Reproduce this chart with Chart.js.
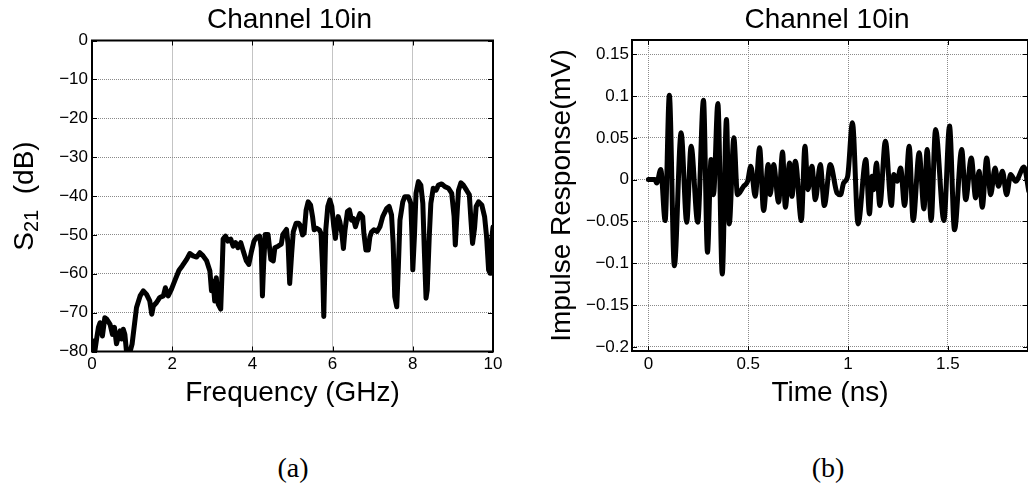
<!DOCTYPE html>
<html>
<head>
<meta charset="utf-8">
<title>Channel 10in</title>
<script src="https://cdn.jsdelivr.net/npm/chart.js@4"></script>
<style>
  html, body { margin: 0; padding: 0; background: #fff; }
  #page { position: relative; width: 1028px; height: 487px; overflow: hidden; }
  canvas { position: absolute; top: 0; }
  #s21 { left: 0; }
  #impulse { left: 505px; }
  .caption {
    position: absolute;
    font: 28px "Liberation Serif", "Times New Roman", serif;
    line-height: 1;
    transform: translate(-50%, -50%);
  }
</style>
</head>
<body>
<div id="page">
  <canvas id="s21" width="520" height="420"></canvas>
  <canvas id="impulse" width="523" height="420"></canvas>
  <div class="caption" style="left:293px; top:468px">(a)</div>
  <div class="caption" style="left:828px; top:468px">(b)</div>
</div>
<script>
// panel (a): S21 magnitude
const freqGHz = [
  0, 0.03, 0.07, 0.12, 0.16, 0.2, 0.26, 0.32, 0.37, 0.45,
  0.51, 0.56, 0.61, 0.7, 0.74, 0.78, 0.82, 0.86, 0.95, 1.0,
  1.05, 1.11, 1.2, 1.28, 1.36, 1.44, 1.49, 1.53, 1.61, 1.69,
  1.78, 1.83, 1.9, 1.98, 2.08, 2.17, 2.25, 2.36, 2.44, 2.52,
  2.61, 2.69, 2.77, 2.86, 2.94, 2.98, 3.02, 3.06, 3.1, 3.15,
  3.21, 3.25, 3.27, 3.33, 3.39, 3.46, 3.52, 3.58, 3.64, 3.71,
  3.77, 3.85, 3.91, 3.98, 4.04, 4.1, 4.18, 4.22, 4.25, 4.28,
  4.32, 4.39, 4.46, 4.52, 4.56, 4.64, 4.72, 4.76, 4.85, 4.89,
  4.93, 4.98, 5.02, 5.09, 5.15, 5.19, 5.25, 5.29, 5.34, 5.39,
  5.45, 5.5, 5.54, 5.6, 5.67, 5.71, 5.75, 5.78, 5.8, 5.83,
  5.88, 5.93, 5.98, 6.03, 6.07, 6.1, 6.14, 6.18, 6.23, 6.27,
  6.31, 6.37, 6.42, 6.47, 6.52, 6.57, 6.62, 6.68, 6.75, 6.78,
  6.83, 6.89, 6.93, 6.97, 7.03, 7.11, 7.18, 7.25, 7.35, 7.41,
  7.47, 7.51, 7.55, 7.6, 7.64, 7.68, 7.75, 7.8, 7.89, 7.95,
  7.98, 8.0, 8.04, 8.08, 8.14, 8.2, 8.25, 8.29, 8.33, 8.36,
  8.41, 8.45, 8.51, 8.58, 8.64, 8.72, 8.8, 8.89, 8.97, 9.03,
  9.06, 9.09, 9.14, 9.2, 9.26, 9.34, 9.41, 9.45, 9.49, 9.54,
  9.58, 9.64, 9.72, 9.79, 9.84, 9.89, 9.93, 9.95, 10.0
];
const s21dB = [
  -79, -77.3, -80, -76.4, -73.8, -72.6, -76, -71.3, -71.7, -73,
  -75.6, -73.8, -78, -74.7, -76.8, -74.3, -75.6, -80, -80, -78.1,
  -73.8, -68.7, -65.7, -64.4, -65.3, -67, -70.4, -68.3, -67.4, -66.1,
  -65.7, -63.6, -65.7, -64, -61.4, -59.1, -58, -56.3, -54.8, -55.4,
  -55.7, -54.6, -55.4, -56.7, -59.3, -64.4, -61.9, -67, -61, -67.9,
  -69.1, -57.6, -51.1, -50.3, -51.6, -51.1, -52.9, -52, -53.3, -52,
  -54.1, -56.7, -57.6, -54.1, -51.6, -50.7, -50.3, -53.3, -65.7, -57.6,
  -49.9, -49.9, -56.3, -56.7, -53.3, -52.9, -52.4, -49.9, -48.6, -52.4,
  -62.5, -54.7, -49.2, -47, -47, -47.5, -50, -49.6, -43.6, -41.5,
  -42.3, -45.3, -48.7, -48.3, -48.7, -49.6, -58.2, -71, -61.6, -48.7,
  -42.7, -41, -42.7, -47.9, -50.9, -47.9, -45.3, -46.6, -49.6, -53.5,
  -48.7, -44, -43.6, -46.2, -45.8, -47.9, -46.2, -44.5, -45.3, -49.6,
  -53.9, -53.9, -50.5, -49.3, -48.7, -49.1, -47.9, -45.3, -43.2, -42.7,
  -44.9, -52.2, -65.9, -68.5, -58.2, -46.2, -41.5, -40.2, -40.2, -41.9,
  -50.5, -59, -50.5, -39.3, -36.3, -37.2, -41.9, -54.7, -66.3, -64.2,
  -50.5, -41.9, -38, -38.5, -37.2, -36.9, -37.6, -38, -39.3, -45.3,
  -52.6, -47, -38.5, -36.6, -37.2, -38.5, -39.7, -46.2, -52.2, -48.3,
  -42.7, -41.5, -42.3, -45.3, -50.5, -59, -59.9, -53, -48
];

// panel (b): impulse response, peaks and troughs
const timeNs = [
  0, 0.033, 0.042, 0.062, 0.084, 0.105, 0.13, 0.164, 0.192, 0.214,
  0.247, 0.276, 0.296, 0.314, 0.326, 0.348, 0.37, 0.391, 0.405, 0.428,
  0.446, 0.477, 0.497, 0.513, 0.535, 0.557, 0.577, 0.6, 0.61, 0.627,
  0.652, 0.672, 0.686, 0.707, 0.719, 0.736, 0.766, 0.784, 0.799, 0.819,
  0.836, 0.861, 0.881, 0.911, 0.945, 0.962, 0.978, 0.998, 1.022, 1.05,
  1.089, 1.107, 1.12, 1.129, 1.142, 1.159, 1.187, 1.217, 1.229, 1.246,
  1.263, 1.283, 1.306, 1.326, 1.356, 1.38, 1.396, 1.416, 1.438, 1.48,
  1.508, 1.533, 1.569, 1.589, 1.617, 1.639, 1.656, 1.672, 1.694, 1.714,
  1.736, 1.753, 1.773, 1.794, 1.814, 1.839, 1.881, 1.905
];
const impulseMV = [
  0, 0, -0.004, 0.012, -0.049, 0.101, -0.103, 0.056, -0.051, 0.04,
  -0.051, 0.095, -0.087, 0.024, -0.018, 0.091, -0.113, 0.072, -0.053, 0.05,
  -0.018, -0.008, -0.002, 0.016, -0.02, 0.038, -0.037, 0.018, -0.018, 0.018,
  -0.027, 0.033, -0.033, 0.02, -0.02, 0.022, -0.049, 0.04, -0.012, 0.016,
  -0.024, 0.018, -0.031, 0.018, -0.016, -0.018, -0.004, 0.004, 0.068, -0.053,
  0.024, -0.041, 0.004, -0.012, 0.02, -0.031, 0.046, -0.031, 0.006, -0.002,
  0.014, -0.031, 0.04, -0.049, 0.032, -0.035, 0.036, -0.049, 0.06, -0.049,
  0.064, -0.06, 0.036, -0.024, 0.026, -0.022, 0.01, -0.033, 0.026, -0.018,
  0.014, -0.008, 0.01, -0.018, 0.006, -0.002, 0.015, -0.014
];

const freqTicks = [0, 2, 4, 6, 8, 10];
const freqTickLabels = ["0", "2", "4", "6", "8", "10"];
const dbTicks = [-80, -70, -60, -50, -40, -30, -20, -10, 0];
const dbTickLabels = ["\u221280", "\u221270", "\u221260", "\u221250", "\u221240", "\u221230", "\u221220", "\u221210", "0"];
const timeTicks = [0, 0.5, 1, 1.5];
const timeTickLabels = ["0", "0.5", "1", "1.5"];
const mvTicks = [-0.2, -0.15, -0.1, -0.05, 0, 0.05, 0.1, 0.15];
const mvTickLabels = ["\u22120.2", "\u22120.15", "\u22120.1", "\u22120.05", "0", "0.05", "0.1", "0.15"];

Chart.defaults.font.family = '"Liberation Sans", Arial, sans-serif';
Chart.defaults.color = "#000";

// matlab style box: frame, inward ticks, title and rotated y label
const boxPlugin = {
  id: "box",
  afterDraw(chart, args, o) {
    const { ctx, chartArea: a } = chart;
    const sx = chart.scales.x, sy = chart.scales.y;
    ctx.save();
    ctx.strokeStyle = "#000";
    ctx.lineWidth = 1;
    ctx.beginPath();
    sx.ticks.forEach(t => {
      const px = Math.round(sx.getPixelForValue(t.value)) + 0.5;
      ctx.moveTo(px, a.bottom); ctx.lineTo(px, a.bottom - 5);
      ctx.moveTo(px, a.top); ctx.lineTo(px, a.top + 5);
    });
    sy.ticks.forEach(t => {
      const py = Math.round(sy.getPixelForValue(t.value)) + 0.5;
      ctx.moveTo(a.left, py); ctx.lineTo(a.left + 5, py);
      ctx.moveTo(a.right, py); ctx.lineTo(a.right - 5, py);
    });
    ctx.stroke();
    ctx.lineWidth = 2;
    ctx.strokeRect(a.left, a.top, a.right - a.left, a.bottom - a.top);

    ctx.fillStyle = "#000";
    ctx.font = '28px "Liberation Sans"';
    ctx.textAlign = "center";
    ctx.textBaseline = "alphabetic";
    ctx.fillText(o.title, (a.left + a.right) / 2 - 3, 28);

    ctx.translate(o.labelX, (a.top + a.bottom) / 2);
    ctx.rotate(-Math.PI / 2);
    ctx.textAlign = "left";
    let total = 0;
    o.ylabel.forEach(p => {
      ctx.font = p.size + 'px "Liberation Sans"';
      total += ctx.measureText(p.text).width;
    });
    let x = -total / 2;
    o.ylabel.forEach(p => {
      ctx.font = p.size + 'px "Liberation Sans"';
      ctx.fillText(p.text, x, p.dy || 0);
      x += ctx.measureText(p.text).width;
    });
    ctx.restore();
  }
};

function makeChart(id, xs, ys, o) {
  const grid = { color: "#8a8a8a", lineWidth: 1, drawTicks: false };
  const border = { display: false, dash: [1, 1] };
  return new Chart(document.getElementById(id), {
    type: "line",
    data: {
      datasets: [{
        data: xs.map((x, i) => ({ x: x, y: ys[i] })),
        borderColor: "#000",
        borderWidth: 5,
        borderJoinStyle: "round",
        borderCapStyle: "round",
        pointRadius: 0,
        fill: false,
        tension: o.smooth ? 0.4 : 0,
        cubicInterpolationMode: o.smooth ? "monotone" : "default"
      }]
    },
    options: {
      responsive: false,
      animation: false,
      layout: { padding: o.padding },
      plugins: {
        legend: { display: false },
        tooltip: { enabled: false },
        box: { title: "Channel 10in", labelX: o.labelX, ylabel: o.ylabel }
      },
      scales: {
        x: {
          type: "linear",
          min: o.xMin,
          max: o.xMax,
          afterBuildTicks: s => { s.ticks = o.xTicks.map(v => ({ value: v })); },
          afterFit: s => { s.height = o.xHeight; },
          ticks: { callback: (v, i) => o.xLabels[i], font: { size: 17 }, padding: 3, maxRotation: 0, autoSkip: false },
          grid: grid,
          border: border,
          title: { display: true, text: o.xTitle, font: { size: 28 }, padding: { top: 0, bottom: 10 } }
        },
        y: {
          type: "linear",
          min: o.yMin,
          max: o.yMax,
          afterBuildTicks: s => { s.ticks = o.yTicks.map(v => ({ value: v })); },
          afterFit: s => { s.width = o.yWidth; },
          ticks: { callback: (v, i) => o.yLabels[i], font: { size: 17 }, padding: o.yPad, autoSkip: false },
          grid: grid,
          border: border
        }
      }
    },
    plugins: [boxPlugin]
  });
}

makeChart("s21", freqGHz, s21dB, {
  xMin: 0, xMax: 10, yMin: -80, yMax: 0,
  xTicks: freqTicks, xLabels: freqTickLabels,
  yTicks: dbTicks, yLabels: dbTickLabels,
  xTitle: "Frequency (GHz)",
  ylabel: [{ text: "S", size: 28 }, { text: "21", size: 20, dy: 5 }, { text: "  (dB)", size: 28 }],
  labelX: 33,
  padding: { top: 40.5, right: 27, bottom: 0, left: 0 },
  yWidth: 92, xHeight: 68.5, yPad: 4,
  smooth: false
});

makeChart("impulse", timeNs, impulseMV, {
  xMin: -0.082, xMax: 1.901, yMin: -0.205, yMax: 0.167,
  xTicks: timeTicks, xLabels: timeTickLabels,
  yTicks: mvTicks, yLabels: mvTickLabels,
  xTitle: "Time (ns)",
  ylabel: [{ text: "Impulse Response(mV)", size: 28 }],
  labelX: 65,
  padding: { top: 40, right: 0, bottom: 0, left: 0 },
  yWidth: 127, xHeight: 69, yPad: 3,
  smooth: true
});
</script>
</body>
</html>
